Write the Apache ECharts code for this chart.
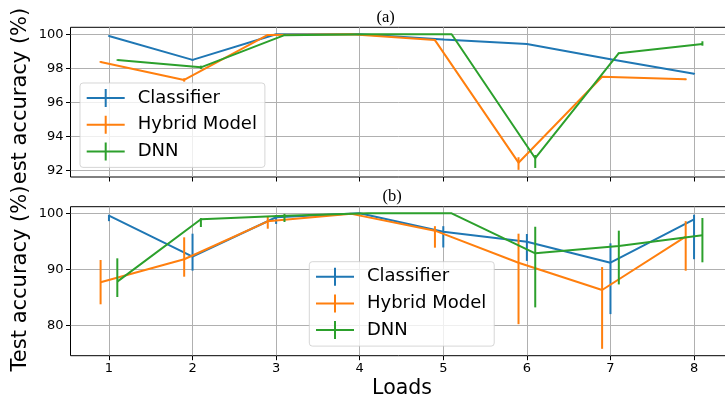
<!DOCTYPE html>
<html><head><meta charset="utf-8">
<script src="https://cdn.jsdelivr.net/npm/echarts@6/dist/echarts.min.js"></script>
<style>html,body{margin:0;padding:0;background:#fff}#c{width:725px;height:400px}</style>
</head><body><div id="c"></div>
<script>
// ---------- data ----------
const loads = [1, 2, 3, 4, 5, 6, 7, 8];
const xTicks = [1, 2, 3, 4, 5, 6, 7, 8];
const yTicksA = [92, 94, 96, 98, 100];
const yTicksB = [80, 90, 100];
const seriesNames = ['Classifier', 'Hybrid Model', 'DNN'];
const xShift = [0, -0.1, 0.1];

// panel (a)
const clsA     = [99.90, 98.50, 100.0, 100.0, 99.70, 99.43, 98.53, 97.69];
const clsALow  = [99.86, 98.45, 99.97, 99.98, 99.66, 99.40, 98.49, 97.65];
const clsAHigh = [99.94, 98.55, 100.0, 100.0, 99.74, 99.46, 98.57, 97.73];
const hybA     = [98.38, 97.32, 99.96, 100.0, 99.66, 92.47, 97.51, 97.36];
const hybALow  = [98.33, 97.22, 99.90, 99.98, 99.60, 92.05, 97.46, 97.31];
const hybAHigh = [98.43, 97.42, 100.0, 100.0, 99.72, 92.79, 97.56, 97.41];
const dnnA     = [98.49, 98.06, 99.95, 100.0, 100.0, 92.73, 98.89, 99.43];
const dnnALow  = [98.46, 97.96, 99.90, 100.0, 100.0, 92.16, 98.85, 99.33];
const dnnAHigh = [98.52, 98.16, 100.0, 100.0, 100.0, 92.92, 98.93, 99.59];

// panel (b)
const clsB     = [99.60, 92.26, 99.30, 100.0, 96.70, 94.93, 91.18, 98.93];
const clsBLow  = [98.60, 89.76, 98.10, 99.90, 93.90, 91.50, 82.00, 91.80];
const clsBHigh = [99.75, 96.36, 99.70, 100.0, 97.70, 96.30, 94.64, 99.75];
const hybB     = [87.68, 91.79, 98.57, 99.90, 96.90, 91.18, 86.30, 95.83];
const hybBLow  = [83.75, 88.68, 97.25, 99.80, 93.86, 80.20, 75.80, 89.75];
const hybBHigh = [91.66, 95.71, 99.40, 100.0, 97.70, 96.36, 90.40, 98.60];
const dnnB     = [87.80, 98.93, 99.58, 100.0, 100.0, 92.86, 94.16, 96.07];
const dnnBLow  = [85.05, 97.55, 98.45, 100.0, 100.0, 83.20, 87.30, 91.25];
const dnnBHigh = [91.96, 99.15, 99.90, 100.0, 100.0, 97.60, 96.90, 99.16];

// ---------- styling ----------
const colors = ['#1f77b4', '#ff7f0e', '#2ca02c'];
const FONT = 'DejaVu Sans';
const LW = 2;
const panels = [
  { mean: [clsA, hybA, dnnA], low: [clsALow, hybALow, dnnALow], high: [clsAHigh, hybAHigh, dnnAHigh] },
  { mean: [clsB, hybB, dnnB], low: [clsBLow, hybBLow, dnnBLow], high: [clsBHigh, hybBHigh, dnnBHigh] }
];

function xAxisCfg(idx, showLabels) {
  return {
    type: 'value', gridIndex: idx, min: 0.54, max: 8.46,
    axisLine: { show: false },
    axisTick: { show: true, length: 4.5, inside: false, customValues: xTicks, lineStyle: { color: '#000', width: 1 } },
    axisLabel: { show: showLabels, customValues: xTicks, margin: 6.5, color: '#000', fontFamily: FONT, fontSize: 13 },
    splitLine: { show: true, lineStyle: { color: '#b0b0b0', width: 1 } }
  };
}
function yAxisCfg(idx, min, max, ticks) {
  return {
    type: 'value', gridIndex: idx, min: min, max: max,
    axisLine: { show: false },
    axisTick: { show: true, length: 4.5, customValues: ticks, lineStyle: { color: '#000', width: 1 } },
    axisLabel: { customValues: ticks, margin: 7, color: '#000', fontFamily: FONT, fontSize: 13 },
    splitLine: { show: true, lineStyle: { color: '#b0b0b0', width: 1 } }
  };
}

const series = [];
panels.forEach((p, pi) => {
  for (let s = 0; s < 3; s++) {
    const c = colors[s];
    series.push({
      name: seriesNames[s], type: 'line', xAxisIndex: pi, yAxisIndex: pi,
      color: c, showSymbol: false, symbol: 'none', animation: false,
      lineStyle: { color: c, width: LW },
      data: loads.map((x, i) => [x + xShift[s], p.mean[s][i]]),
      z: 3 + s * 2
    });
    series.push({
      name: seriesNames[s], type: 'custom', xAxisIndex: pi, yAxisIndex: pi,
      color: c, animation: false, z: 3 + s * 2,
      encode: { x: 0, y: [1, 2] },
      data: loads.map((x, i) => [x + xShift[s], p.low[s][i], p.high[s][i]]),
      renderItem: function (params, api) {
        const a = api.coord([api.value(0), api.value(1)]);
        const b = api.coord([api.value(0), api.value(2)]);
        return { type: 'line', shape: { x1: a[0], y1: a[1], x2: b[0], y2: b[1] },
                 style: { stroke: c, lineWidth: LW } };
      }
    });
  }
});

const icon = 'path://M0,8h38v2h-38zM18,0h2v18h-2z';
function legendCfg(left, top) {
  return {
    data: seriesNames.map(n => ({ name: n, icon: icon })),
    orient: 'vertical', left: left, top: top,
    itemWidth: 38, itemHeight: 18, itemGap: 6.7,
    padding: [5, 8, 6, 6.7],
    backgroundColor: 'rgba(255,255,255,0.8)',
    borderColor: 'rgba(204,204,204,0.8)', borderWidth: 1, borderRadius: 3,
    textStyle: { fontFamily: FONT, fontSize: 18, color: '#000', lineHeight: 20, padding: [0, 0, 0, 8] },
    selectedMode: false
  };
}

const option = {
  animation: false,
  backgroundColor: '#fff',
  grid: [
    { left: 70.5, top: 27.3, width: 662, height: 149.7, show: true, borderColor: '#000', borderWidth: 1, backgroundColor: 'transparent', containLabel: false, outerBoundsMode: 'none' },
    { left: 70.5, top: 206.7, width: 662, height: 149, show: true, borderColor: '#000', borderWidth: 1, backgroundColor: 'transparent', containLabel: false, outerBoundsMode: 'none' }
  ],
  xAxis: [xAxisCfg(0, false), xAxisCfg(1, true)],
  yAxis: [yAxisCfg(0, 91.63, 100.41, yTicksA), yAxisCfg(1, 74.57, 101.18, yTicksB)],
  legend: [legendCfg(80, 83), legendCfg(309.3, 261.7)],
  series: series,
  graphic: [
    { type: 'text', x: 385.7, y: 17.5, style: { text: '(a)', font: '16.5px "Liberation Serif"', fill: '#000', align: 'center', verticalAlign: 'middle' } },
    { type: 'text', x: 392, y: 196.7, style: { text: '(b)', font: '16.5px "Liberation Serif"', fill: '#000', align: 'center', verticalAlign: 'middle' } },
    { type: 'text', x: 402, y: 389, style: { text: 'Loads', font: '20.5px "DejaVu Sans"', fill: '#000', align: 'center', verticalAlign: 'middle' } },
    { type: 'text', x: 21, y: 278.5, rotation: Math.PI / 2, style: { text: 'Test accuracy (%)', font: '21px "DejaVu Sans"', fill: '#000', align: 'center', verticalAlign: 'middle' } },
    { type: 'text', x: 21, y: 96, rotation: Math.PI / 2, style: { text: 'est accuracy (%)', font: '21px "DejaVu Sans"', fill: '#000', align: 'center', verticalAlign: 'middle' } }
  ]
};

const chart = echarts.init(document.getElementById('c'), null, { renderer: 'canvas' });
chart.setOption(option);
</script>
</body></html>
